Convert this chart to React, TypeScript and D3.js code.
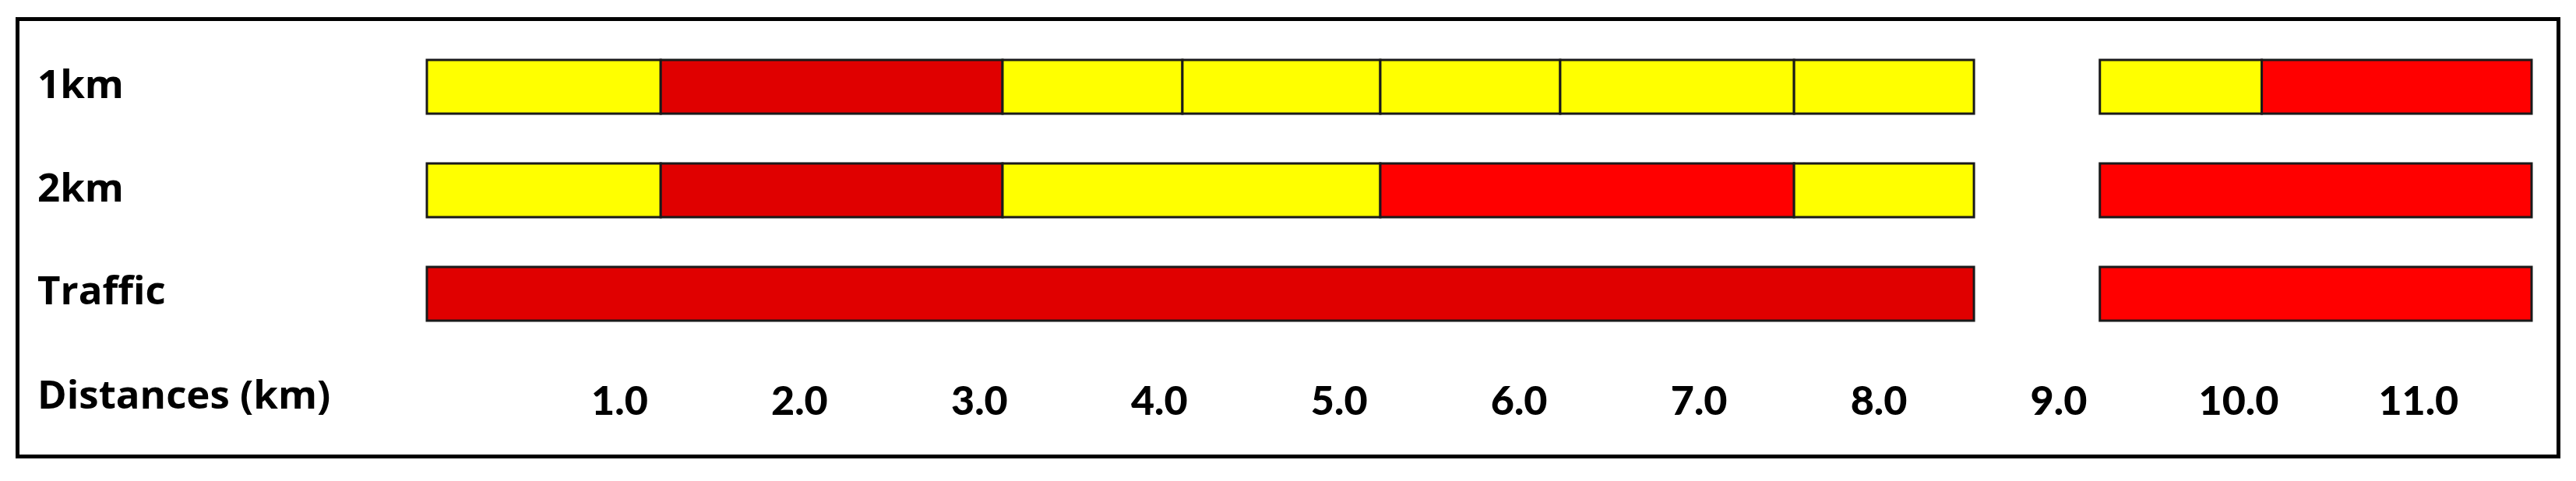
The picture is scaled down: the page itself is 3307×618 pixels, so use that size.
import { useRef, useEffect } from "react";
import * as d3 from "d3";

// rows of the strip chart
const rows = ["1km", "2km", "Traffic"];

// segment breaks (km) and status for each row
const starts1km = [0, 1.3, 3.2, 4.2, 5.3, 6.3, 7.6, 9.3, 10.2];
const ends1km = [1.3, 3.2, 4.2, 5.3, 6.3, 7.6, 8.6, 10.2, 11.7];
const status1km = ["warn", "high", "warn", "warn", "warn", "warn", "warn", "warn", "severe"];

const starts2km = [0, 1.3, 3.2, 5.3, 7.6, 9.3];
const ends2km = [1.3, 3.2, 5.3, 7.6, 8.6, 11.7];
const status2km = ["warn", "high", "warn", "severe", "warn", "severe"];

const startsTraffic = [0, 9.3];
const endsTraffic = [8.6, 11.7];
const statusTraffic = ["high", "severe"];

const tickValues = [1, 2, 3, 4, 5, 6, 7, 8, 9, 10, 11];
const axisTitle = "Distances (km)";

const statusColors = {
  warn: "#ffff00",
  high: "#e00000",
  severe: "#ff0000",
};

function App() {
  const svgRef = useRef(null);

  useEffect(() => {
    const w = 3307;
    const h = 618;
    const svg = d3.select(svgRef.current).attr("width", w).attr("height", h);
    svg.selectAll("*").remove();

    const labelFont = "'Open Sans', Lato, sans-serif";
    const tickFont = "Lato, 'Open Sans', sans-serif";

    // outer frame
    svg
      .append("rect")
      .attr("x", 22.5)
      .attr("y", 24.5)
      .attr("width", 3262)
      .attr("height", 562)
      .attr("fill", "#fff")
      .attr("stroke", "#000")
      .attr("stroke-width", 5);

    // scales
    const x = d3.scaleLinear().domain([0, 11.7]).range([548, 3250]);
    const y = d3.scaleBand().domain(rows).range([77, 412]).paddingInner(0.481).paddingOuter(0);

    const segments = [
      ...starts1km.map((s, i) => ({ row: "1km", s, e: ends1km[i], st: status1km[i] })),
      ...starts2km.map((s, i) => ({ row: "2km", s, e: ends2km[i], st: status2km[i] })),
      ...startsTraffic.map((s, i) => ({ row: "Traffic", s, e: endsTraffic[i], st: statusTraffic[i] })),
    ];

    svg
      .append("g")
      .selectAll("rect")
      .data(segments)
      .enter()
      .append("rect")
      .attr("x", (d) => x(d.s))
      .attr("y", (d) => y(d.row))
      .attr("width", (d) => x(d.e) - x(d.s))
      .attr("height", y.bandwidth())
      .attr("fill", (d) => statusColors[d.st])
      .attr("stroke", "#1a1a1a")
      .attr("stroke-width", 3);

    // row labels
    svg
      .append("g")
      .selectAll("text")
      .data(rows)
      .enter()
      .append("text")
      .attr("x", 48)
      .attr("y", (d) => y(d) + y.bandwidth() / 2 + 14)
      .attr("font-family", labelFont)
      .attr("font-weight", "bold")
      .attr("font-size", 51)
      .attr("fill", "#000")
      .text((d) => d);

    svg
      .append("text")
      .attr("x", 48)
      .attr("y", 525)
      .attr("font-family", labelFont)
      .attr("font-weight", "bold")
      .attr("font-size", 51)
      .attr("fill", "#000")
      .text(axisTitle);

    // distance axis
    const xAxis = d3
      .axisBottom(x)
      .tickValues(tickValues)
      .tickFormat(d3.format(".1f"))
      .tickSize(0);
    const ax = svg.append("g").attr("transform", "translate(16, 533)").call(xAxis);
    ax.select(".domain").remove();
    ax.selectAll("text")
      .attr("y", 0)
      .attr("dy", null)
      .attr("font-family", tickFont)
      .attr("font-weight", 900)
      .attr("font-size", 52)
      .attr("fill", "#000");
  }, []);

  return (
    <svg
      ref={svgRef}
      style={{ position: "absolute", left: 0, top: 0, display: "block" }}
    ></svg>
  );
}

export default App;
